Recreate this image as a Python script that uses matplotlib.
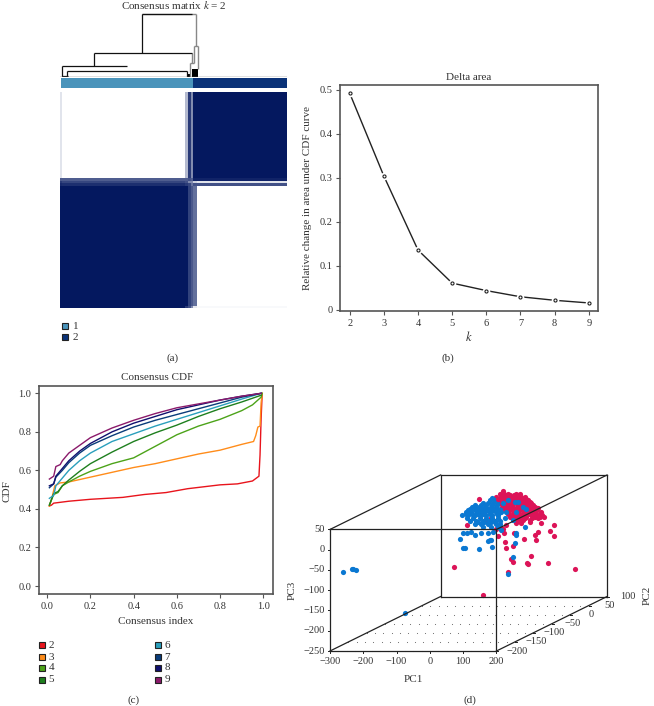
import numpy as np
import matplotlib
matplotlib.use('Agg')
import matplotlib.pyplot as plt
from matplotlib.colors import LinearSegmentedColormap
from matplotlib.patches import Rectangle

W, H = 654, 706
INK = '#333333'
plt.rcParams['font.family'] = ['Liberation Serif', 'DejaVu Serif']
plt.rcParams['font.size'] = 8
plt.rcParams['mathtext.fontset'] = 'stix'
plt.rcParams['text.color'] = INK
plt.rcParams['axes.labelcolor'] = INK
plt.rcParams['xtick.labelcolor'] = INK
plt.rcParams['ytick.labelcolor'] = INK

# panel (a) consensus blocks, sample / row boundaries and consensus level
sample_edges = [0, 2, 125, 128, 131, 133, 137, 227]
row_edges = [0, 86, 89, 91, 94, 214, 216]
consensus = [
    [0.12, 0.00, 0.30, 0.85, 0.50, 1.00, 1.00],
    [0.70, 0.70, 0.70, 0.75, 0.70, 0.95, 0.95],
    [0.85, 0.80, 0.75, 0.50, 0.50, 0.20, 0.12],
    [0.92, 0.90, 0.85, 0.80, 0.60, 0.75, 0.75],
    [1.00, 1.00, 1.00, 0.82, 0.72, 0.62, 0.00],
    [1.00, 1.00, 0.85, 0.75, 0.50, 0.10, 0.03],
]
cluster_split = 133
cluster_labels = ['1', '2']
cluster_colors = ['#4a94bb', '#0a3278']

# dendrogram segments: x0, x1, height0, height1
dendro_black = [
    (82, 82, 24, 63), (82, 132, 63, 63), (34, 132, 24, 24), (34, 34, 24, 11),
    (1.5, 67, 11, 11), (1.5, 1.5, 11, 0), (7, 127, 6, 6), (7, 7, 6, 0),
    (127, 127, 6, 0), (1.5, 8, 1, 1),
]
dendro_grey = [
    (82, 136, 63, 63), (136, 136, 63, 31), (134, 138, 31, 31), (134, 134, 31, 14),
    (138, 138, 31, 8), (132, 132, 24, 14), (130, 134, 14, 14), (130, 130, 14, 0),
]
dendro_block_x = [129, 135]
dendro_block_w = [3, 6]
dendro_block_h = [3, 8]

# panel (b)
k_values = [2, 3, 4, 5, 6, 7, 8, 9]
delta_area = [0.492, 0.304, 0.136, 0.061, 0.044, 0.030, 0.022, 0.016]

# panel (c) CDF curves
cdf_x = {
    2: [.01, .02, .03, .1, .2, .35, .45, .55, .65, .8, .88, .95, .98, .985, .99, .995],
    3: [.01, .02, .035, .06, .1, .2, .3, .4, .5, .6, .7, .8, .9, .955, .965, .975, .985, .99, .995],
    4: [.01, .03, .05, .07, .1, .15, .2, .3, .4, .5, .6, .7, .8, .9, .95, .99, .995],
    5: [.01, .03, .05, .07, .1, .15, .2, .3, .4, .5, .6, .7, .8, .9, .99],
    6: [.01, .03, .04, .07, .1, .15, .2, .3, .4, .5, .6, .7, .8, .9, .99],
    7: [.01, .03, .04, .07, .1, .15, .2, .3, .4, .5, .6, .7, .8, .9, .99],
    8: [.01, .03, .04, .07, .1, .15, .2, .3, .4, .5, .6, .7, .8, .9, .99],
    9: [.01, .03, .04, .06, .07, .1, .15, .2, .3, .4, .5, .6, .7, .8, .9, .99],
}
cdf_y = {
    2: [.415, .42, .43, .44, .45, .46, .475, .485, .505, .525, .53, .545, .57, .68, .87, 1.0],
    3: [.415, .45, .52, .535, .54, .565, .59, .615, .635, .66, .685, .705, .735, .75, .78, .825, .83, .95, 1.0],
    4: [.42, .475, .485, .52, .54, .57, .595, .635, .665, .725, .785, .83, .865, .91, .94, .98, 1.0],
    5: [.42, .48, .49, .52, .55, .595, .635, .695, .75, .795, .835, .88, .92, .955, .99],
    6: [.455, .47, .52, .56, .60, .65, .69, .75, .79, .83, .865, .90, .935, .97, 1.0],
    7: [.51, .53, .565, .60, .64, .69, .73, .78, .825, .86, .89, .92, .95, .98, 1.0],
    8: [.52, .53, .57, .61, .65, .70, .74, .80, .845, .88, .915, .94, .965, .985, 1.0],
    9: [.555, .57, .62, .63, .65, .69, .73, .77, .82, .86, .895, .925, .945, .965, .985, 1.0],
}
cdf_colors = {2: '#e8141c', 3: '#ff8c1a', 4: '#4ca319', 5: '#1e7f1e',
              6: '#2a9fbc', 7: '#0a3c7a', 8: '#10106e', 9: '#8b1a6b'}

# panel (d) PCA scores, main cloud read on the PC2 = -50 plane
red_pc1 = [54, 44, 56, 69, 94, 104, 34, 49, 64, 79, 92, 109, 119, 39, 56, 72, 86, 99, 114, 129,
           44, 62, 76, 94, 109, 124, 139, 54, 69, 84, 99, 116, 132, 149, 59, 76, 92, 106, 122, 139, 156,
           69, 84, 99, 114, 129, 144, 164, 74, 92, 109, 124, 149, 164, 176, 84, 99, 114, 134, 94, 109,
           19, 4, -16, 44, 34, 64, -94, -6, 189, 127, 130, 137, 79, 85, 69, 195, 160, 149, 154, 116,
           168, 136, 84, 64, 61, 87, 56, 39, 54, -19, -55]
red_pc3 = [78, 71, 71, 71, 71, 71, 63, 63, 63, 63, 63, 63, 63, 55, 55, 55, 55, 55, 55, 55,
           47, 47, 47, 47, 47, 47, 47, 39, 39, 39, 39, 39, 39, 39, 30, 30, 30, 30, 30, 30, 30,
           22, 22, 22, 22, 22, 22, 22, 14, 14, 14, 14, 14, 14, 14, 6, 6, 6, 6, -1, -1,
           10, 4, 26, -11, -15, -6, -111, -180, -99, -99, -102, -83, -91, -98, -121, -20, -23, -31, -42, -41,
           -1, 2, -57, -63, -49, -27, -27, -34, -17, 58, -6]
red_top_pc1 = [50, 62, 75, 88, 100, 40, 55, 70, 82, 95, 105, 122, 50, 66, 80, 92, 104, 120, 134,
               50, 66, 82, 100, 115, 130, 145, 62, 80, 96, 110, 128, 145, 160, 68, 86, 100, 118, 134, 150, 168,
               76, 92, 108, 122, 138, 155, 172, 84, 100, 120, 140, 160]
red_top_pc3 = [67, 67, 67, 67, 67, 59, 59, 59, 59, 59, 59, 59, 51, 51, 51, 51, 51, 51, 51,
               43, 43, 43, 43, 43, 43, 43, 35, 35, 35, 35, 35, 35, 35, 26, 26, 26, 26, 26, 26, 26,
               18, 18, 18, 18, 18, 18, 18, 10, 10, 10, 10, 10]
red_far_pc1 = [169, 106, 107]
red_far_pc2 = [40, 40, 40]
red_far_pc3 = [-155, -47, -74]

blue_pc1 = [22, 14, 29, -6, 9, 24, 39, -31, -11, 4, 22, 36, -46, -26, -8, 9, 26, 44,
            -59, -41, -21, -4, 14, 32, 49, -69, -51, -31, -11, 4, 22, 39, -46, -26, -6, 12, 29, 44,
            -31, -11, 9, 34, 44, -6, 19, 40, -40, -18, 0, 17, 34, -52, -30, -12, 5, 24, 40,
            -58, -40, -20, -2, 16, 36, -55, -35, -15, 4, 22, 38, -22, -2, 18, 30,
            69, 85, 91, 94, 121, 22, -19, -66, -62, -76, 14, 10, 18, -66, -56, -41, -31, -11, 9, 24, 49, 94]
blue_pc3 = [61, 55, 55, 48, 48, 48, 48, 43, 43, 43, 43, 43, 34, 34, 34, 34, 34, 34,
            26, 26, 26, 26, 26, 26, 26, 18, 18, 18, 18, 18, 18, 18, 4, 4, 4, 4, 4, 4,
            -4, -4, -4, -4, -4, -12, -12, -12, 39, 39, 39, 39, 39, 30, 30, 30, 30, 30, 30,
            22, 22, 22, 22, 22, 22, 11, 11, 11, 11, 11, 11, 0, 0, 0, 0,
            -126, -86, -51, -27, -10, -61, -66, -62, -63, -41, -43, -45, -43, -27, -27, -23, -31, -27, -27, -23, -19, -31]
blue_spot_pc1 = [54, 64, 89, 94, 114, 124, 69, 99, 59, 84]
blue_spot_pc3 = [47, 26, 51, 26, 39, 34, 55, 51, 10, 6]
blue_far_pc1 = [-260, -233, -222, -230, -74]
blue_far_pc2 = [-200, -200, -200, -200, -200]
blue_far_pc3 = [-56, -47, -51, -48, -156]
pc1_ticks = [-300, -200, -100, 0, 100, 200]
pc2_ticks = [-200, -150, -100, -50, 0, 50, 100]
pc3_ticks = [-250, -200, -150, -100, -50, 0, 50]


def px_axes(left, top, right, bottom):
    return fig.add_axes([left / W, 1 - bottom / H, (right - left) / W, (bottom - top) / H])


def fig_text(x, y, s, **kw):
    kw.setdefault('ha', 'center')
    kw.setdefault('va', 'center')
    fig.text(x / W, 1 - y / H, s, **kw)


def swatch(x, y, color):
    fig.add_artist(Rectangle(((x - 3.2) / W, 1 - (y + 3.2) / H), 6.4 / W, 6.4 / H,
                             transform=fig.transFigure, facecolor=color,
                             edgecolor='#222222', linewidth=0.8))


def style_frame(ax):
    for s in ax.spines.values():
        s.set_color('#555555')
        s.set_linewidth(1.2)
    ax.tick_params(length=3, width=0.8, color='#555555', pad=2.5, labelsize=7.5)


fig = plt.figure(figsize=(W / 100, H / 100), dpi=100)

# (a) dendrogram, annotation bar, matrix
ax_d = px_axes(60, 10, 287, 77)
for x0, x1, h0, h1 in dendro_grey:
    ax_d.plot([x0, x1], [h0, h1], color='#888888', lw=1.0, solid_capstyle='butt')
for x0, x1, h0, h1 in dendro_black:
    ax_d.plot([x0, x1], [h0, h1], color='#111111', lw=0.9, solid_capstyle='butt')
ax_d.bar(dendro_block_x, dendro_block_h, width=dendro_block_w, color='#000000')
ax_d.axhline(0, color='#666666', lw=1)
ax_d.set_xlim(0, 227)
ax_d.set_ylim(0, 67)
ax_d.axis('off')

ax_bar = px_axes(60.5, 78, 287, 87.5)
ax_bar.barh([0], [cluster_split], left=0, height=1, color=cluster_colors[0])
ax_bar.barh([0], [227 - cluster_split], left=cluster_split, height=1, color=cluster_colors[1])
ax_bar.set_xlim(0, 227)
ax_bar.set_ylim(-0.5, 0.5)
ax_bar.axis('off')

ax_m = px_axes(60, 92, 287, 308)
cons_cmap = LinearSegmentedColormap.from_list('cons', ['#ffffff', '#04185f'])
ax_m.pcolormesh(sample_edges, row_edges, np.array(consensus), cmap=cons_cmap, vmin=0, vmax=1)
ax_m.set_xlim(0, 227)
ax_m.set_ylim(216, 0)
ax_m.axis('off')

fig_text(174, 5, r'Consensus matrix $\mathit{k}$ = 2', fontsize=8)
for lab, col, y in zip(cluster_labels, cluster_colors, [326, 337]):
    swatch(65, y, col)
    fig_text(73, y, lab, ha='left')
fig_text(173, 358, '(a)')

# (b) delta area
ax_b = px_axes(340, 85, 598, 311)
ax_b.plot(k_values, delta_area, color='#222222', lw=1.0)
ax_b.plot(k_values, delta_area, ls='none', marker='o', ms=4.5, mfc='white', mec='white')
ax_b.plot(k_values, delta_area, ls='none', marker='o', ms=2.2, mfc='white', mec='#222222', mew=0.8)
ax_b.set_xlim(1.716, 9.27)
ax_b.set_ylim(-0.0023, 0.5107)
ax_b.set_xticks(k_values)
ax_b.set_yticks([0, 0.1, 0.2, 0.3, 0.4, 0.5])
ax_b.set_yticklabels(['0', '0.1', '0.2', '0.3', '0.4', '0.5'])
style_frame(ax_b)
fig_text(469, 77, 'Delta area', fontsize=8)
fig_text(469, 337, r'$\mathit{k}$', fontsize=9)
fig_text(308, 198, 'Relative change in area under CDF curve', rotation=90, fontsize=8)
fig_text(448, 358, '(b)')

# (c) consensus CDF
ax_c = px_axes(39, 386, 273, 594)
for k in k_values:
    ax_c.plot(cdf_x[k], cdf_y[k], color=cdf_colors[k], lw=1.0)
ax_c.set_xlim(-0.038, 1.045)
ax_c.set_ylim(-0.0415, 1.038)
ax_c.set_xticks([0, 0.2, 0.4, 0.6, 0.8, 1.0])
ax_c.set_yticks([0, 0.2, 0.4, 0.6, 0.8, 1.0])
ax_c.xaxis.set_major_formatter('{x:.1f}')
ax_c.yaxis.set_major_formatter('{x:.1f}')
style_frame(ax_c)
fig_text(157, 377, 'Consensus CDF', fontsize=8)
fig_text(156, 622, 'Consensus index', fontsize=8)
fig_text(7, 491, 'CDF', rotation=90, fontsize=8)
legend_rows = [645, 657, 668, 680]
for i, k in enumerate(k_values):
    sx = 42 if i < 4 else 158
    swatch(sx, legend_rows[i % 4], cdf_colors[k])
    fig_text(sx + 6.5, legend_rows[i % 4], str(k), ha='left')
fig_text(134, 700, '(c)')


# (d) oblique 3D box, sideways and up shift grows with PC2
def project(pc1, pc2, pc3):
    depth = (np.asarray(pc2, dtype=float) + 200) / 300
    return np.asarray(pc1, dtype=float) + 332 * depth, np.asarray(pc3, dtype=float) + 134.4 * depth


ax_s = px_axes(330, 475, 607, 651)
ax_s.set_xlim(-300, 532)
ax_s.set_ylim(-250, 184.4)
ax_s.axis('off')

gx, gy = np.meshgrid(np.arange(-300, 201, 25), np.arange(-200, 101, 50))
fx, fy = project(gx.ravel(), gy.ravel(), np.full(gx.size, -250))
ax_s.scatter(fx, fy, s=0.6, color='#666666', linewidths=0, clip_on=False)


def draw_points(pc1, pc2, pc3, color):
    sx, sy = project(pc1, pc2, pc3)
    ax_s.scatter(sx, sy, s=14, color=color, linewidths=0, clip_on=False)


RED, BLUE = '#dc1458', '#0a78d2'
draw_points(red_pc1, np.full(len(red_pc1), -50), red_pc3, RED)
draw_points(red_far_pc1, red_far_pc2, red_far_pc3, RED)
draw_points(blue_pc1, np.full(len(blue_pc1), -50), blue_pc3, BLUE)
draw_points(blue_far_pc1, blue_far_pc2, blue_far_pc3, BLUE)
draw_points(red_top_pc1, np.full(len(red_top_pc1), -50), red_top_pc3, RED)
draw_points(blue_spot_pc1, np.full(len(blue_spot_pc1), -50), blue_spot_pc3, BLUE)

corners = [(-300, 50), (200, 50), (200, -250), (-300, -250)]
for i, (a, c) in enumerate(corners):
    a2, c2 = corners[(i + 1) % 4]
    # front and back rectangles, plus the edge that joins them
    for pc2 in (-200, 100):
        lx, ly = project([a, a2], [pc2, pc2], [c, c2])
        ax_s.plot(lx, ly, color='#222222', lw=0.9, clip_on=False)
    lx, ly = project([a, a], [-200, 100], [c, c])
    ax_s.plot(lx, ly, color='#222222', lw=0.9, clip_on=False)

for t in pc1_ticks:
    lx, ly = project([t, t], [-200, -200], [-250, -256])
    ax_s.plot(lx, ly, color='#222222', lw=0.7, clip_on=False)
    ax_s.annotate(str(t).replace('-', '\u2212'), (lx[0], -250), xytext=(0, -11),
                  textcoords='offset pixels', ha='center', va='center', fontsize=7.5)
for t in pc3_ticks:
    lx, ly = project([-300, -306], [-200, -200], [t, t])
    ax_s.plot(lx, ly, color='#222222', lw=0.7, clip_on=False)
    ax_s.annotate(str(t).replace('-', '\u2212'), (-300, t), xytext=(-5, 0),
                  textcoords='offset pixels', ha='right', va='center', fontsize=7.5)
for t in pc2_ticks:
    lx, ly = project([200, 206], [t, t], [-250, -250])
    ax_s.plot(lx, ly, color='#222222', lw=0.7, clip_on=False)
    ax_s.annotate(str(t).replace('-', '\u2212'), (lx[0], ly[0]), xytext=(21, 0),
                  textcoords='offset pixels', ha='center', va='center', fontsize=7.5)
fig_text(413, 679, 'PC1', fontsize=8)
fig_text(292, 590, 'PC3', rotation=90, fontsize=8)
fig_text(647, 595, 'PC2', rotation=90, fontsize=8)
fig_text(470, 700, '(d)')

fig.savefig('out.png', dpi=100)
